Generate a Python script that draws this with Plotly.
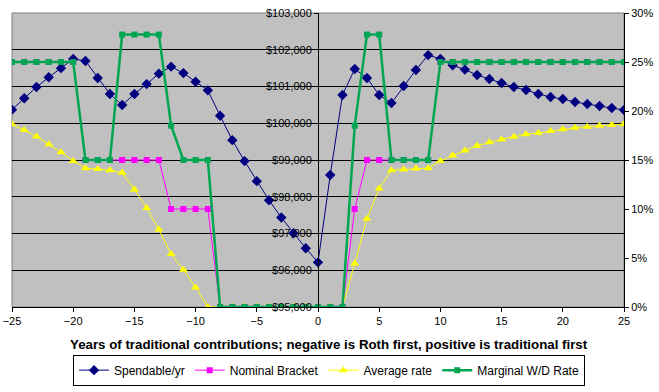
import plotly.graph_objects as go

years = [-25, -24, -23, -22, -21, -20, -19, -18, -17, -16, -15, -14, -13, -12, -11, -10, -9,
         -8, -7, -6, -5, -4, -3, -2, -1, 0, 1, 2,
         3, 4, 5, 6, 7, 8, 9, 10, 11, 12, 13, 14, 15, 16, 17, 18, 19, 20, 21, 22, 23, 24, 25]

spendable = [100370, 100680, 100985, 101250, 101500, 101750, 101695, 101230, 100795, 100495,
             100795, 101065, 101350, 101540, 101365, 101130, 100895,
             100205, 99540, 98970, 98425, 97905, 97435, 97005, 96600, 96215, 98590, 100770,
             101475, 101230, 100770, 100550, 101015, 101450, 101855, 101750, 101575, 101460,
             101312, 101203, 101094, 100985, 100904, 100795, 100713, 100659, 100577, 100522,
             100468, 100413, 100359]

nominal_bracket = [0.25, 0.25, 0.25, 0.25, 0.25, 0.25,
                   0.15, 0.15, 0.15, 0.15, 0.15, 0.15, 0.15,
                   0.10, 0.10, 0.10, 0.10,
                   0, 0, 0, 0, 0, 0, 0, 0, 0, 0, 0,
                   0.10,
                   0.15, 0.15, 0.15, 0.15, 0.15, 0.15,
                   0.25, 0.25, 0.25, 0.25, 0.25, 0.25, 0.25, 0.25, 0.25, 0.25, 0.25, 0.25,
                   0.25, 0.25, 0.25, 0.25]

average_rate = [0.1866, 0.1805, 0.174, 0.166, 0.158, 0.149, 0.1417, 0.1407, 0.1396, 0.1369,
                0.120, 0.101, 0.079, 0.054, 0.038, 0.020, 0.0,
                0, 0, 0, 0, 0, 0, 0, 0, 0, 0, 0,
                0.0443, 0.090, 0.121, 0.1396, 0.1403, 0.1413, 0.1417, 0.149, 0.1546, 0.1597,
                0.1645, 0.168, 0.171, 0.1737, 0.1764, 0.1775, 0.1795, 0.1815, 0.183, 0.184,
                0.185, 0.1856, 0.1866]

marginal_rate = [0.25, 0.25, 0.25, 0.25, 0.25, 0.25,
                 0.15, 0.15, 0.15,
                 0.278, 0.278, 0.278, 0.278,
                 0.185,
                 0.15, 0.15, 0.15,
                 0, 0, 0, 0, 0, 0, 0, 0, 0, 0, 0,
                 0.185,
                 0.278, 0.278,
                 0.15, 0.15, 0.15, 0.15,
                 0.25, 0.25, 0.25, 0.25, 0.25, 0.25, 0.25, 0.25, 0.25, 0.25, 0.25, 0.25,
                 0.25, 0.25, 0.25, 0.25]

x_ticks = [-25, -20, -15, -10, -5, 0, 5, 10, 15, 20, 25]
x_title = "Years of traditional contributions; negative is Roth first, positive is traditional first"

FONT = "Liberation Sans, Arial, sans-serif"

fig = go.Figure()
fig.add_trace(go.Scatter(x=years, y=spendable, name="Spendable/yr", mode="lines+markers",
                         line=dict(color="#000080", width=1),
                         marker=dict(symbol="diamond", size=8, color="#000080"),
                         yaxis="y"))
fig.add_trace(go.Scatter(x=years, y=nominal_bracket, name="Nominal Bracket", mode="lines+markers",
                         line=dict(color="#FF00FF", width=1),
                         marker=dict(symbol="square", size=6, color="#FF00FF"),
                         yaxis="y2"))
fig.add_trace(go.Scatter(x=years, y=average_rate, name="Average rate", mode="lines+markers",
                         line=dict(color="#FFFF00", width=1),
                         marker=dict(symbol="triangle-up", size=8, color="#FFFF00"),
                         yaxis="y2"))
fig.add_trace(go.Scatter(x=years, y=marginal_rate, name="Marginal W/D Rate", mode="lines+markers",
                         line=dict(color="#00A651", width=2.5),
                         marker=dict(symbol="square", size=6, color="#00A651"),
                         yaxis="y2"))

fig.update_layout(
    width=659, height=392,
    margin=dict(l=12, r=35, t=13, b=85, autoexpand=False),
    paper_bgcolor="white",
    plot_bgcolor="#C0C0C0",
    font=dict(family=FONT, size=11, color="black"),
    showlegend=True,
    xaxis=dict(range=[-25, 25], domain=[0, 1], tickvals=x_ticks, showgrid=False, zeroline=False,
               showline=True, linecolor="black", linewidth=1, ticks="outside", ticklen=4,
               tickcolor="black", tickfont=dict(size=11), automargin=False,
               ticklabeloverflow="allow"),
    yaxis=dict(range=[95000, 103000], dtick=1000, tickformat="$,.0f", anchor="free", position=0.5,
               showgrid=True, gridcolor="black", gridwidth=1, zeroline=False,
               showline=True, linecolor="black", linewidth=1, ticks="outside", ticklen=4,
               tickcolor="black", tickfont=dict(size=11), automargin=False,
               ticklabeloverflow="allow"),
    yaxis2=dict(range=[0, 0.30], dtick=0.05, tickformat=".0%", overlaying="y", side="right",
                anchor="x", showgrid=False, zeroline=False, showline=True, linecolor="black",
                linewidth=1, ticks="outside", ticklen=4, tickcolor="black",
                tickfont=dict(size=11), automargin=False, ticklabeloverflow="allow"),
    legend=dict(orientation="h", x=0.518, xanchor="center", y=-0.162, yanchor="top",
                bgcolor="white", bordercolor="black", borderwidth=1,
                font=dict(size=12, family=FONT)),
    annotations=[dict(text="<b>" + x_title + "</b>", xref="paper", yref="paper",
                      x=0.518, y=-0.129, xanchor="center", yanchor="middle", showarrow=False,
                      font=dict(size=13.3, family=FONT))],
    shapes=[dict(type="rect", xref="x domain", yref="y domain", x0=0, x1=1, y0=0, y1=1,
                 line=dict(color="#808080", width=1), layer="below")],
)

fig.write_html("out.html", config={"displayModeBar": False},
               post_script="document.body.style.margin='0';document.body.style.overflow='hidden';")
